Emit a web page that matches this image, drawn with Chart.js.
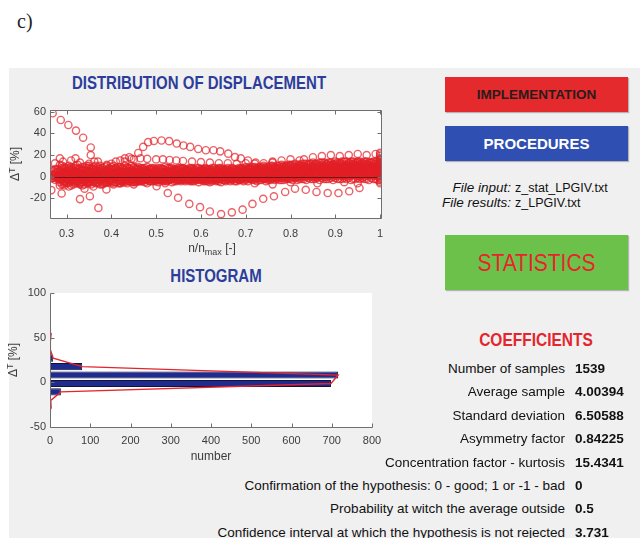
<!DOCTYPE html>
<html>
<head>
<meta charset="utf-8">
<title>Statistics</title>
<script src="https://cdn.jsdelivr.net/npm/chart.js@4.4.1/dist/chart.umd.min.js"></script>
<style>
  html, body { margin: 0; padding: 0; background: #fff; }
  body { width: 640px; height: 538px; position: relative; overflow: hidden;
         font-family: "Liberation Sans", Arial, sans-serif; color: #111; }
  #tag { position: absolute; left: 17px; top: 10px; font: 20px "Liberation Serif", serif; color: #222; }
  #panel { position: absolute; left: 9px; top: 68px; width: 631px; height: 470px; background: #f0f0f0; }
  canvas { position: absolute; left: 0; }
  #scatter { top: 68px; }
  #hist { top: 262px; }
  .title { position: absolute; font-weight: bold; font-size: 15px; line-height: 18px; color: #2c3d9b;
           white-space: nowrap; transform: translateX(-50%) scaleY(1.2); }
  .btn { position: absolute; left: 445px; width: 183px; display: flex; align-items: center;
         justify-content: center; font-weight: bold; box-shadow: 1px 1px 1px rgba(0,0,0,0.25); }
  #impl { top: 77px; height: 35px; background: #e42a2c; color: #2b1c1c; font-size: 13.5px; }
  #proc { top: 126px; height: 35px; background: #2f4fb3; color: #fff; font-size: 15px; }
  #stat { top: 235px; height: 55px; background: #6cc14b; color: #e8242b; font-weight: normal; font-size: 21px; }
  #stat span { transform: scaleY(1.12); }
  .txt { position: absolute; white-space: nowrap; }
  .file { font-size: 12.5px; line-height: 14px; }
  .file.k { font-style: italic; font-size: 13.5px; right: 129px; }
  .file.v { left: 515px; }
  #coefTitle { left: 536px; top: 331px; font-weight: bold; font-size: 15.5px; line-height: 18px; color: #e3262d;
               transform: translateX(-50%) scaleY(1.15); }
  .coef { font-size: 13.5px; line-height: 18px; }
  .coef.k { right: 75px; }
  .coef.v { left: 575px; font-weight: bold; }
</style>
</head>
<body>
<div id="tag">c)</div>
<div id="panel"></div>
<div class="title" style="left:199px; top:74px;">DISTRIBUTION OF DISPLACEMENT</div>
<div class="title" style="left:216px; top:267px;">HISTOGRAM</div>
<canvas id="scatter" width="395" height="190"></canvas>
<canvas id="hist" width="390" height="205"></canvas>
<div class="btn" id="impl"><span>IMPLEMENTATION</span></div>
<div class="btn" id="proc"><span>PROCEDURES</span></div>
<div class="btn" id="stat"><span>STATISTICS</span></div>
<div class="txt" id="coefTitle">COEFFICIENTS</div>
<script>
// n/n_max sampling grids for the dense band (two interleaved sets of files)
const nGrid = [
  0.27, 0.28, 0.29, 0.30, 0.31, 0.32, 0.33, 0.34, 0.35, 0.36,
  0.37, 0.38, 0.39, 0.40, 0.41, 0.42, 0.43, 0.44, 0.45, 0.46,
  0.47, 0.48, 0.49, 0.50, 0.51, 0.52, 0.53, 0.54, 0.55, 0.56,
  0.57, 0.58, 0.59, 0.60, 0.61, 0.62, 0.63, 0.64, 0.65, 0.66,
  0.67, 0.68, 0.69, 0.70, 0.71, 0.72, 0.73, 0.74, 0.75, 0.76,
  0.77, 0.78, 0.79, 0.80, 0.81, 0.82, 0.83, 0.84, 0.85, 0.86,
  0.87, 0.88, 0.89, 0.90, 0.91, 0.92, 0.93, 0.94, 0.95, 0.96,
  0.97, 0.98, 0.99, 1.00
];
const nGridB = [
  0.275, 0.285, 0.295, 0.305, 0.315, 0.325, 0.335, 0.345, 0.355, 0.365,
  0.375, 0.385, 0.395, 0.405, 0.415, 0.425, 0.435, 0.445, 0.455, 0.465,
  0.475, 0.485, 0.495, 0.505, 0.515, 0.525, 0.535, 0.545, 0.555, 0.565,
  0.575, 0.585, 0.595, 0.605, 0.615, 0.625, 0.635, 0.645, 0.655, 0.665,
  0.675, 0.685, 0.695, 0.705, 0.715, 0.725, 0.735, 0.745, 0.755, 0.765,
  0.775, 0.785, 0.795, 0.805, 0.815, 0.825, 0.835, 0.845, 0.855, 0.865,
  0.875, 0.885, 0.895, 0.905, 0.915, 0.925, 0.935, 0.945, 0.955, 0.965,
  0.975, 0.985, 0.995
];

// displacement dT [%] of each file along nGrid
const bandA = [
  null, null, 10, 8, 9, 10, 8, 9, 10, 9,
  9, 8, 10, 9, 8, 9, 10, 8, 9, 9,
  8, 9, 8, 7, 8, 9, 8, 7, 8, 8,
  7, 8, 8, 7, 8, 7, 8, 8, 7, 8,
  8, 7, 8, 9, 8, 9, 9, 10, 9, 10,
  10, 11, 10, 11, 12, 11, 12, 12, 13, 12,
  13, 12, 13, 14, 13, 14, 13, 14, 14, 13,
  14, 13, 14, 13
];
const bandB = [
  null, 7, 8, 6, 7, 8, 7, 6, 8, 7,
  7, 8, 6, 7, 8, 7, 6, 7, 8, 7,
  7, 6, 7, 6, 7, 6, 7, 6, 6, 7,
  6, 7, 6, 6, 7, 6, 6, 7, 6, 6,
  7, 6, 7, 7, 7, 8, 7, 8, 8, 9,
  8, 9, 9, 10, 9, 10, 10, 11, 10, 11,
  11, 12, 11, 12, 12, 11, 12, 12, 13, 12,
  12, 13, 12, 12
];
const bandC = [
  5, null, 6, 5, 6, 5, 4, 6, 5, 6,
  5, 6, 5, 4, 6, 5, 6, 5, 5, 6,
  5, 5, 6, 5, 5, 4, 5, 5, 6, 5,
  5, 5, 4, 5, 5, 5, 4, 5, 5, 4,
  5, 5, 6, 5, 6, 6, 6, 7, 6, 7,
  7, 7, 8, 7, 8, 8, 9, 8, 9, 9,
  9, 10, 9, 10, 10, 9, 10, 11, 10, 10,
  11, 10, 10, 11
];
const bandD = [
  null, 4, 3, 4, 3, 4, 5, 3, 4, 4,
  4, 3, 4, 4, 3, 4, 4, 3, 4, 4,
  4, 4, 3, 4, 4, 3, 4, 4, 3, 4,
  4, 3, 4, 4, 3, 4, 3, 4, 4, 3,
  4, 4, 4, 5, 4, 5, 5, 5, 6, 5,
  6, 6, 6, 7, 6, 7, 7, 7, 8, 7,
  8, 8, 8, 9, 8, 9, 8, 9, 9, 8,
  9, 9, 8, 9
];
const bandE = [
  2, null, 3, 2, 2, 3, 1, 2, 3, 2,
  2, 3, 2, 2, 3, 2, 2, 3, 2, 2,
  3, 2, 2, 3, 2, 2, 3, 2, 2, 3,
  2, 2, 3, 2, 2, 3, 2, 2, 3, 2,
  2, 3, 3, 3, 3, 4, 3, 4, 4, 4,
  4, 5, 5, 5, 5, 6, 5, 6, 6, 6,
  6, 7, 6, 7, 7, 7, 7, 7, 8, 7,
  7, 8, 7, 7
];
const bandF = [
  1, 0, 1, 1, 0, 1, 2, 1, 0, 1,
  1, 1, 0, 1, 1, 0, 1, 1, 1, 0,
  1, 1, 1, 0, 1, 1, 1, 0, 1, 1,
  1, 0, 1, 1, 1, 0, 1, 1, 0, 1,
  1, 1, 2, 1, 2, 2, 2, 3, 2, 3,
  3, 3, 3, 4, 3, 4, 4, 4, 5, 4,
  5, 5, 5, 5, 6, 5, 6, 5, 6, 6,
  6, 5, 6, 6
];
const bandG = [
  -1, 0, -1, -2, -1, 0, -1, -2, -1, -1,
  -1, 0, -1, -1, 0, -1, -1, 0, -1, -1,
  0, -1, 0, 0, -1, 0, 0, -1, 0, 0,
  -1, 0, 0, -1, 0, 0, -1, 0, 0, -1,
  0, 0, 0, 1, 0, 1, 1, 1, 1, 2,
  1, 2, 2, 2, 2, 3, 2, 3, 3, 3,
  3, 4, 3, 4, 4, 4, 4, 4, 5, 4,
  4, 5, 4, 4
];
const bandH = [
  null, -2, -3, -2, -4, -3, -2, -3, -4, -2,
  -3, -2, -3, -3, -2, -3, -2, -2, -3, -2,
  -2, -2, -1, -2, -2, -1, -2, -1, -2, -1,
  -1, -2, -1, -1, -2, -1, -1, -2, -1, -1,
  -1, -1, -1, 0, -1, 0, 0, -1, 0, 0,
  0, 1, 0, 1, 1, 1, 1, 2, 1, 2,
  2, 2, 2, 2, 3, 2, 3, 3, 3, 2,
  3, 3, 2, 3
];
const bandI = [
  null, null, -4, -5, -3, -4, -6, -4, -5, -4,
  -5, -4, -5, -4, -5, -4, -3, -4, -4, -3,
  -3, -3, -2, -3, -3, -2, -3, -2, -3, -2,
  -2, -3, -2, -2, -3, -2, -2, -2, -3, -2,
  -2, -2, -2, -1, -2, -1, -1, -2, -1, -1,
  -1, -1, 0, -1, 0, 0, 0, 1, 0, 0,
  1, 0, 1, 1, 1, 1, 1, 2, 1, 1,
  1, 2, 1, 1
];
const bandJ = [
  null, null, -7, -6, -8, -6, -5, -7, -6, -5,
  -6, -7, -5, -6, -5, -6, -5, -4, -5, -4,
  -4, -3, -4, -4, -3, -4, -3, -4, -3, -3,
  -3, -4, -3, -3, -4, -3, -3, -4, -3, -3,
  -3, -4, -3, -3, -2, -3, -3, -2, -3, -2,
  -2, -3, -2, -2, -1, -2, -2, -1, -2, -1,
  -1, -2, -1, -1, -2, -1, -1, -2, -1, -1,
  -2, -1, -2, -2
];

// displacement dT [%] of each file along nGridB
const bandK = [
  null, 11, 9, 10, 8, 11, 9, 10, 8, 10,
  10, 9, 8, 10, 9, 8, 9, 10, 8, 8,
  8, 7, 8, 8, 7, 8, 8, 7, 8, 7,
  8, 7, 8, 7, 7, 8, 7, 8, 7, 7,
  7, 8, 8, 8, 9, 8, 9, 9, 10, 9,
  10, 10, 11, 11, 11, 12, 12, 12, 12, 13,
  13, 13, 12, 13, 14, 14, 14, 13, 14, 14,
  13, 14, 14
];
const bandL = [
  7, 6, 7, 8, 6, 7, 6, 8, 7, 6,
  7, 6, 7, 7, 6, 7, 8, 6, 7, 6,
  6, 7, 6, 6, 7, 5, 6, 6, 7, 6,
  6, 6, 5, 6, 6, 6, 5, 6, 6, 5,
  6, 6, 6, 7, 7, 7, 8, 7, 8, 8,
  8, 8, 9, 9, 9, 10, 9, 10, 11, 10,
  10, 11, 11, 11, 12, 11, 12, 11, 12, 12,
  11, 12, 12
];
const bandM = [
  4, 5, 4, 6, 5, 4, 6, 5, 4, 5,
  5, 5, 4, 5, 5, 4, 5, 5, 4, 5,
  5, 4, 5, 4, 4, 5, 4, 5, 4, 5,
  4, 5, 4, 5, 4, 4, 5, 4, 4, 5,
  4, 5, 5, 5, 5, 6, 6, 6, 6, 7,
  7, 7, 7, 8, 8, 8, 8, 9, 9, 9,
  9, 9, 10, 9, 10, 10, 10, 10, 11, 10,
  10, 10, 11
];
const bandN = [
  3, 2, 4, 3, 4, 3, 2, 4, 3, 3,
  3, 4, 3, 3, 4, 3, 3, 4, 3, 3,
  3, 3, 4, 3, 3, 4, 3, 3, 4, 3,
  3, 4, 3, 3, 4, 3, 3, 3, 4, 3,
  3, 4, 4, 4, 4, 5, 4, 5, 5, 5,
  5, 6, 6, 6, 6, 7, 7, 7, 7, 8,
  7, 8, 8, 8, 8, 9, 8, 9, 9, 9,
  8, 9, 9
];
const bandO = [
  2, 1, 2, 3, 1, 2, 2, 1, 2, 3,
  2, 2, 1, 2, 2, 1, 2, 2, 2, 1,
  2, 2, 2, 1, 2, 2, 2, 2, 1, 2,
  2, 1, 2, 2, 2, 1, 2, 2, 2, 2,
  2, 2, 3, 2, 3, 3, 3, 3, 4, 3,
  4, 4, 4, 5, 4, 5, 5, 5, 6, 5,
  6, 6, 6, 6, 7, 6, 7, 7, 7, 6,
  7, 7, 6
];
const bandP = [
  0, 1, 0, -1, 0, 1, 0, 0, -1, 0,
  0, 1, 0, 0, 1, 0, 0, 1, 0, 0,
  1, 0, 0, 1, 0, 0, 1, 0, 0, 1,
  0, 0, 1, 0, 1, 0, 0, 1, 0, 0,
  1, 1, 1, 1, 2, 1, 2, 2, 2, 2,
  2, 3, 2, 3, 3, 3, 3, 4, 4, 4,
  4, 4, 5, 4, 5, 5, 5, 5, 5, 6,
  5, 5, 6
];
const bandQ = [
  -1, -2, -1, -1, -3, -2, -1, -2, -2, -1,
  -2, -1, -2, -2, -1, -2, -1, -1, -2, -1,
  -1, -1, -1, -1, -1, -1, 0, -1, -1, 0,
  -1, -1, 0, -1, -1, 0, -1, -1, 0, -1,
  0, 0, -1, 0, 0, 1, 0, 1, 1, 1,
  1, 1, 2, 1, 2, 2, 2, 2, 3, 2,
  3, 3, 3, 3, 4, 3, 4, 3, 4, 4,
  4, 3, 4
];
const bandR = [
  -3, -2, -4, -3, -2, -4, -3, -3, -2, -3,
  -3, -3, -4, -2, -3, -3, -3, -2, -2, -3,
  -2, -2, -2, -2, -3, -2, -2, -1, -2, -2,
  -2, -2, -1, -2, -2, -1, -2, -2, -1, -2,
  -1, -2, -1, -1, -1, -1, 0, -1, 0, 0,
  0, 0, 0, 1, 0, 1, 1, 1, 1, 1,
  2, 1, 2, 2, 2, 2, 2, 2, 2, 3,
  2, 2, 3
];
const bandS = [
  null, -5, -4, -6, -5, -4, -5, -6, -4, -5,
  -4, -5, -4, -5, -4, -4, -4, -3, -4, -4,
  -3, -4, -3, -3, -3, -3, -2, -3, -3, -3,
  -3, -2, -3, -3, -2, -3, -3, -2, -3, -2,
  -2, -3, -2, -2, -2, -2, -1, -2, -2, -1,
  -1, -1, -1, 0, -1, 0, 0, 0, 0, 1,
  0, 1, 0, 1, 1, 0, 1, 1, 1, 0,
  1, 1, 0
];
const bandT = [
  null, -8, -6, -9, -7, -6, -8, -5, -7, -6,
  -7, -6, -5, -7, -6, -5, -6, -5, -5, -4,
  -5, -4, -4, -5, -4, -4, -5, -4, -4, -4,
  -4, -4, -5, -4, -4, -4, -4, -5, -4, -4,
  -4, -3, -4, -4, -3, -4, -3, -4, -3, -3,
  -3, -3, -2, -3, -3, -2, -3, -2, -2, -3,
  -2, -2, -3, -2, -2, -2, -3, -2, -2, -2,
  -3, -2, -3
];

// separate tracks that leave the band
const upperArcN  = [0.43, 0.445, 0.46, 0.471, 0.482, 0.495, 0.512, 0.529, 0.546, 0.561, 0.576, 0.594, 0.611, 0.628, 0.643, 0.661, 0.676, 0.689, 0.705, 0.722];
const upperArcDT = [14, 16.6, 21.9, 27.5, 31.9, 33, 33.4, 32.8, 30.6, 28.8, 27.5, 25.6, 24.4, 24.4, 23.4, 21.3, 18.1, 16.9, 15, 13];
const midRowN  = [0.45, 0.465, 0.48, 0.5, 0.515, 0.53, 0.545, 0.56, 0.58, 0.6, 0.62, 0.64, 0.66, 0.68, 0.7, 0.72, 0.74, 0.76];
const midRowDT = [16, 17, 16.5, 16, 16, 15.5, 15, 14.5, 14, 13.5, 13, 12.5, 12.5, 12, 12.5, 12, 12.5, 13];
const lowerArcN  = [0.48, 0.501, 0.526, 0.549, 0.574, 0.598, 0.62, 0.645, 0.669, 0.693, 0.715, 0.739, 0.763, 0.788, 0.81, 0.834, 0.858, 0.883, 0.907, 0.931, 0.954];
const lowerArcDT = [-6, -8.8, -15, -19.4, -25, -28, -32, -34.4, -32.8, -30.3, -25, -20.3, -18, -14, -11, -12, -14, -15, -15, -13.4, -10.3];
const startTrackN  = [0.269, 0.287, 0.304, 0.321, 0.337, 0.354, 0.354, 0.362];
const startTrackDT = [58.5, 52.3, 47.7, 42.5, 36, 27, 20, 14];
const strayN = [
  0.266, 0.27, 0.274, 0.285, 0.289, 0.292, 0.307, 0.33, 0.33, 0.352, 0.371, 0.389,
  0.266, 0.31, 0.32, 0.33, 0.35, 0.37, 0.39, 0.40, 0.41, 0.42, 0.43, 0.44,
  0.42, 0.45, 0.52, 0.62, 0.72, 0.76, 0.80, 0.86, 0.92, 0.95,
  0.76, 0.78, 0.80, 0.82, 0.83, 0.85, 0.87, 0.89, 0.91, 0.93, 0.95, 0.97, 0.99,
  0.295, 0.36, 0.38, 0.34
];
const strayDT = [
  -1.5, 6.2, 12.3, 17, -15.4, 13.9, -4.6, -20.6, -7, -17.9, -28.7, -11.7,
  -12.3, 15, 17, 13, 12, 14, 11, 12, 14, 15, 17, 18,
  -6, -7, -6, -5, -6, -7, -5, -6, -5, -6,
  14, 15, 16, 15, 16, 18, 19, 20, 19, 20, 21, 20, 21,
  -8, -9, -6, -11
];
// samples recorded at n/n_max = 1
const endColumnDT = [22, 20.5, 19, 17, 15.5, 14, 12, 10.5, 9, 7, 5.5, 4, 2, 0.5, -1, -3, -4.5, -6];

const scatterXTicks = [0.3, 0.4, 0.5, 0.6, 0.7, 0.8, 0.9, 1];
const scatterYTicks = [-20, 0, 20, 40, 60];

// histogram of dT: bin centres [%] and counts
const binCenters = [-29.6, -20.2, -10.7, -1.3, 8.2, 17.6, 27.0, 36.4, 45.9, 55.3];
const binCounts  = [3, 2, 27, 698, 716, 80, 8, 1, 1, 3];
const histXTicks = [0, 100, 200, 300, 400, 500, 600, 700, 800];
const histYTicks = [-50, 0, 50, 100];

const fileLabels = ['File input:', 'File results:'];
const fileNames  = ['z_stat_LPGIV.txt', 'z_LPGIV.txt'];

const coefLabels = [
  'Number of samples',
  'Average sample',
  'Standard deviation',
  'Asymmetry factor',
  'Concentration factor - kurtosis',
  'Confirmation of the hypothesis: 0 - good; 1 or -1 - bad',
  'Probability at witch the average outside',
  'Confidence interval at which the hypothesis is not rejected'
];
const coefValues = ['1539', '4.00394', '6.50588', '0.84225', '15.4341', '0', '0.5', '3.731'];

const FONT = '"Liberation Sans", Arial, sans-serif';

const pairs = (xs, ys) => xs.map((x, i) => ({ x: x, y: ys[i] }));

// text blocks on the right
function addText(cls, text, top) {
  const d = document.createElement('div');
  d.className = 'txt ' + cls;
  d.textContent = text;
  d.style.top = top + 'px';
  document.body.appendChild(d);
}
fileLabels.forEach((t, i) => addText('file k', t, 181 + i * 14.5));
fileNames.forEach((t, i) => addText('file v', t, 181 + i * 14.5));
coefLabels.forEach((t, i) => addText('coef k', t, 360 + i * 23.4));
coefValues.forEach((t, i) => addText('coef v', t, 360 + i * 23.4));

// axis titles per canvas: pieces [text, small?, vertical shift]
const dTTitle = [['\u0394', false, 0], ['T', true, -3], [' [%]', false, 0]];
const axisTitles = {
  scatter: { box: true, zeroLine: true,
             x: [['n/n', false, 0], ['max', true, 4], [' [-]', false, 0]], xAt: [212, 181],
             y: dTTitle, yAt: [16, 96] },
  hist:    { box: false, zeroLine: false,
             x: [['number', false, 0]], xAt: [211, 195],
             y: dTTitle, yAt: [14, 98] }
};

function pieceFont(small) {
  return (small ? 9 : 12) + 'px ' + FONT;
}
function drawPieces(ctx, pieces, cx, cy) {
  let w = 0;
  pieces.forEach(p => { ctx.font = pieceFont(p[1]); w += ctx.measureText(p[0]).width; });
  let x = cx - w / 2;
  ctx.textAlign = 'left';
  ctx.textBaseline = 'middle';
  pieces.forEach(p => {
    ctx.font = pieceFont(p[1]);
    ctx.fillText(p[0], x, cy + p[2]);
    x += ctx.measureText(p[0]).width;
  });
}

// white plot area, axis lines, inward tick marks and axis titles
const axesFrame = {
  id: 'axesFrame',
  beforeDraw(chart) {
    const { ctx, chartArea: a } = chart;
    ctx.save();
    ctx.fillStyle = '#ffffff';
    ctx.fillRect(a.left, a.top, a.right - a.left, a.bottom - a.top);
    ctx.restore();
  },
  afterDatasetsDraw(chart) {
    const cfg = axisTitles[chart.canvas.id];
    if (!cfg.zeroLine) return;
    const { ctx, chartArea: a, scales } = chart;
    const py = Math.round(scales.y.getPixelForValue(0)) + 0.5;
    ctx.save();
    ctx.strokeStyle = 'rgba(95,20,20,0.85)';
    ctx.lineWidth = 1;
    ctx.beginPath();
    ctx.moveTo(a.left, py);
    ctx.lineTo(a.right, py);
    ctx.stroke();
    ctx.restore();
  },
  afterDraw(chart) {
    const cfg = axisTitles[chart.canvas.id];
    const { ctx, chartArea: a, scales } = chart;
    const x = scales.x, y = scales.y;
    const L = a.left + 0.5, R = Math.round(a.right) + 0.5, T = a.top + 0.5, B = Math.round(a.bottom) + 0.5;
    const len = 4;
    ctx.save();
    ctx.strokeStyle = '#6f6f6f';
    ctx.lineWidth = 1;
    ctx.beginPath();
    ctx.moveTo(L, T); ctx.lineTo(L, B); ctx.lineTo(R, B);
    if (cfg.box) { ctx.lineTo(R, T); ctx.lineTo(L, T); }
    x.ticks.forEach(t => {
      const px = Math.round(x.getPixelForValue(t.value)) + 0.5;
      ctx.moveTo(px, B); ctx.lineTo(px, B - len);
      if (cfg.box) { ctx.moveTo(px, T); ctx.lineTo(px, T + len); }
    });
    y.ticks.forEach(t => {
      const py = Math.round(y.getPixelForValue(t.value)) + 0.5;
      ctx.moveTo(L, py); ctx.lineTo(L + len, py);
      if (cfg.box) { ctx.moveTo(R, py); ctx.lineTo(R - len, py); }
    });
    ctx.stroke();

    ctx.fillStyle = '#3c3c3c';
    drawPieces(ctx, cfg.x, cfg.xAt[0], cfg.xAt[1]);
    ctx.translate(cfg.yAt[0], cfg.yAt[1]);
    ctx.rotate(-Math.PI / 2);
    drawPieces(ctx, cfg.y, 0, 0);
    ctx.restore();
  }
};

const tickStyle = { font: { family: FONT, size: 11 }, color: '#3c3c3c' };

// every sample as one point cloud
const samples = [];
[bandA, bandB, bandC, bandD, bandE, bandF, bandG, bandH, bandI, bandJ].forEach(track => {
  track.forEach((v, i) => { if (v !== null) samples.push({ x: nGrid[i], y: v }); });
});
[bandK, bandL, bandM, bandN, bandO, bandP, bandQ, bandR, bandS, bandT].forEach(track => {
  track.forEach((v, i) => { if (v !== null) samples.push({ x: nGridB[i], y: v }); });
});
samples.push(...pairs(upperArcN, upperArcDT));
samples.push(...pairs(midRowN, midRowDT));
samples.push(...pairs(lowerArcN, lowerArcDT));
samples.push(...pairs(startTrackN, startTrackDT));
samples.push(...pairs(strayN, strayDT));
samples.push(...endColumnDT.map(v => ({ x: 1, y: v })));

new Chart(document.getElementById('scatter'), {
  type: 'scatter',
  data: {
    datasets: [{
      data: samples,
      pointStyle: 'circle',
      pointRadius: 3.6,
      borderWidth: 1.4,
      borderColor: 'rgba(226,32,38,0.7)',
      backgroundColor: 'rgba(0,0,0,0)'
    }]
  },
  options: {
    responsive: false,
    animation: false,
    layout: { padding: { top: 42, right: 14 } },
    plugins: { legend: { display: false }, tooltip: { enabled: false } },
    scales: {
      x: {
        type: 'linear', min: 0.263, max: 1.002,
        afterBuildTicks: s => { s.ticks = scatterXTicks.map(v => ({ value: v })); },
        afterFit: s => { s.height = 40; },
        grid: { display: false, drawTicks: false },
        border: { display: false },
        ticks: Object.assign({ padding: 9, maxRotation: 0, callback: v => String(v) }, tickStyle)
      },
      y: {
        type: 'linear', min: -38, max: 61.5,
        afterBuildTicks: s => { s.ticks = scatterYTicks.map(v => ({ value: v })); },
        afterFit: s => { s.width = 50; },
        grid: { display: false, drawTicks: false },
        border: { display: false },
        ticks: Object.assign({ padding: 4, callback: v => String(v) }, tickStyle)
      }
    }
  },
  plugins: [axesFrame]
});

new Chart(document.getElementById('hist'), {
  type: 'bar',
  data: {
    datasets: [
      {
        type: 'line',
        data: pairs(binCounts, binCenters),
        borderColor: '#e4252b',
        borderWidth: 1.3,
        pointRadius: 0,
        fill: false,
        tension: 0
      },
      {
        type: 'bar',
        data: pairs(binCounts, binCenters),
        backgroundColor: '#1f2b8e',
        borderColor: '#121234',
        borderWidth: 1,
        barPercentage: 0.86,
        categoryPercentage: 1
      }
    ]
  },
  options: {
    indexAxis: 'y',
    responsive: false,
    animation: false,
    layout: { padding: { top: 31, right: 18 } },
    plugins: { legend: { display: false }, tooltip: { enabled: false } },
    scales: {
      x: {
        type: 'linear', min: 0, max: 800,
        afterBuildTicks: s => { s.ticks = histXTicks.map(v => ({ value: v })); },
        afterFit: s => { s.height = 40; },
        grid: { display: false, drawTicks: false },
        border: { display: false },
        ticks: Object.assign({ padding: 7, maxRotation: 0, callback: v => String(v) }, tickStyle)
      },
      y: {
        type: 'linear', min: -50, max: 100, offset: false,
        afterBuildTicks: s => { s.ticks = histYTicks.map(v => ({ value: v })); },
        afterFit: s => { s.width = 50; },
        grid: { display: false, drawTicks: false, offset: false },
        border: { display: false },
        ticks: Object.assign({ padding: 4, callback: v => String(v) }, tickStyle)
      }
    }
  },
  plugins: [axesFrame]
});
</script>
</body>
</html>
